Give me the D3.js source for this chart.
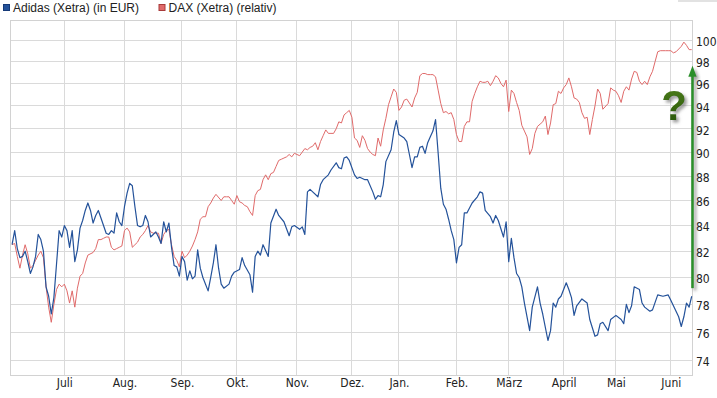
<!DOCTYPE html>
<html><head><meta charset="utf-8">
<script src="https://cdn.jsdelivr.net/npm/d3@7"></script>
<style>
body{margin:0;background:#fff}
svg{display:block}
.ax text{font-family:"Liberation Sans Narrow","Arial Narrow","DejaVu Sans Condensed","Liberation Sans",Arial,sans-serif;font-size:12px;fill:#222}
.lg text{font-family:"Liberation Sans",Arial,sans-serif;font-size:12px;fill:#222}
</style>
</head><body>
<svg id="c" width="717" height="398"></svg>
<script>
// ---- data (x = trading-day index from start, y = price) ----
const monthLabels = ["Juli","Aug.","Sep.","Okt.","Nov.","Dez.","Jan.","Feb.","März","April","Mai","Juni"];
const monthDays   = [20, 43, 65, 86, 109, 130, 148, 170, 190, 211, 231, 252];
const yTicks = [74,76,78,80,82,84,86,88,90,92,94,96,98,100];
const seriesNames = ["Adidas (Xetra) (in EUR)", "DAX (Xetra) (relativ)"];

const adidasDay = [0,1,2,3,4,5,6,7,8,9,10,11,12,13,14,15,16,17,18,19,20,21,22,23,24,25,26,27,28,29,30,31,32,33,34,36,37,38,39,40,41,42,43,44,45,46,47,48,49,50,51,52,53,54,55,56,57,58,59,60,61,62,63,64,65,66,67,68,69,70,71,72,73,75,76,77,78,79,80,81,83,84,85,87,88,89,91,92,93,94,95,96,98,99,101,102,104,106,107,108,110,111,112,113,114,115,117,118,119,121,122,124,125,126,127,128,129,131,132,133,135,136,138,139,140,141,142,143,145,146,147,148,150,151,152,153,154,155,156,157,158,159,160,161,162,163,164,165,166,167,168,169,170,171,172,173,174,176,178,179,180,181,183,184,185,186,188,189,190,191,192,193,194,195,196,198,199,201,202,203,205,206,207,208,209,210,212,213,214,215,216,218,220,221,223,224,225,226,228,229,231,233,234,235,236,237,238,240,241,242,244,245,247,249,251,252,253,255,256,257,258,259,260];
const adidasVal = [82.5,83.6,82.2,81.5,81.6,82.0,81.2,80.3,80.8,81.6,83.3,82.9,82.0,79.3,78.6,77.3,78.5,81.0,83.6,83.1,84.0,83.6,82.3,83.6,81.2,82.1,83.8,84.4,85.2,85.8,85.2,84.2,84.8,85.2,84.6,83.4,83.3,83.6,83.4,85.0,84.3,84.0,85.5,86.6,87.4,87.2,85.5,84.0,83.9,84.0,84.8,84.3,83.1,83.3,83.5,83.1,82.6,84.3,83.5,84.2,82.3,80.9,80.8,80.1,81.6,81.2,79.8,80.5,79.9,80.1,82.1,80.7,80.0,79.0,80.0,81.1,82.5,80.7,79.5,79.2,79.5,80.1,80.4,80.6,81.5,80.9,80.2,78.9,81.6,82.0,81.7,82.5,81.6,84.2,85.3,84.8,84.3,83.2,83.9,84.0,83.7,83.9,83.3,86.7,86.9,86.7,86.3,87.3,87.7,88.1,88.5,89.1,88.7,88.6,89.5,89.6,89.3,88.1,87.8,87.9,87.7,87.7,86.7,86.1,86.4,86.3,87.3,89.2,90.2,91.7,92.7,91.5,91.2,90.9,89.8,88.7,89.6,89.6,90.4,90.5,89.9,90.8,91.3,91.8,92.8,89.9,87.0,85.7,85.3,84.5,83.6,82.9,81.1,82.3,82.5,85.0,85.0,85.8,86.3,86.7,86.6,85.2,84.7,84.2,84.8,84.4,83.1,84.3,81.2,83.0,81.5,80.3,80.0,79.3,78.1,76.1,77.8,79.3,78.1,77.3,75.4,76.1,78.1,77.8,78.4,78.6,79.6,79.1,78.5,77.2,77.9,78.4,78.1,76.9,75.7,75.8,76.6,76.7,76.1,76.9,77.2,76.9,76.6,78.0,77.4,77.9,79.3,79.1,78.1,77.8,77.5,77.6,78.7,78.6,78.7,78.3,77.9,77.1,76.4,77.1,78.1,77.8,78.6];

const daxDay = [0,1,2,3,4,5,6,7,8,9,10,11,12,13,14,15,16,17,18,19,20,21,22,23,24,25,26,27,28,29,31,32,33,34,35,36,37,38,39,40,41,42,43,44,45,46,47,48,49,50,51,52,53,54,55,56,57,58,59,60,61,62,63,64,65,66,67,68,69,70,71,72,73,74,75,76,77,78,80,81,82,83,84,85,86,87,88,89,90,91,92,93,94,95,96,97,98,99,100,101,102,103,104,105,106,107,108,109,110,111,112,113,114,115,116,117,118,119,120,121,122,123,124,125,126,127,128,129,130,131,132,133,134,135,136,137,138,139,140,141,142,143,144,145,146,147,148,149,150,151,153,154,155,156,157,158,159,160,161,162,163,164,165,166,167,168,169,170,171,172,173,174,175,176,177,178,179,180,181,182,183,184,185,186,187,188,189,190,191,192,193,194,195,196,197,198,199,200,201,202,203,204,205,206,207,208,209,210,211,212,213,214,215,216,217,218,219,220,221,222,223,224,225,226,228,229,230,231,232,233,234,235,236,237,238,239,240,241,242,243,244,245,246,247,248,249,250,251,252,253,254,256,257,258,259,260];
const daxVal = [82.5,82.6,81.6,80.7,81.7,82.5,81.8,80.7,80.9,81.3,81.7,82.0,81.5,79.3,77.8,76.7,78.0,79.1,79.5,79.3,79.5,79.0,78.1,79.0,77.8,79.2,80.1,80.3,81.1,81.7,81.9,82.2,82.9,82.9,83.0,83.1,83.1,82.3,82.1,82.2,82.3,82.4,83.6,83.8,83.5,82.3,82.5,82.7,83.1,83.3,83.6,84.0,83.5,83.4,83.4,83.4,82.6,83.3,83.6,83.7,82.5,81.6,81.3,80.8,82.0,81.5,81.7,82.0,82.4,82.9,83.5,84.5,84.7,84.7,85.5,85.8,86.2,86.5,86.0,86.3,86.3,86.3,86.0,85.7,86.4,85.9,85.8,85.6,85.5,85.1,84.8,86.4,86.8,86.9,87.7,88.1,87.7,88.2,88.3,88.8,89.3,89.4,89.5,89.6,89.8,89.6,89.9,89.8,89.7,90.0,90.3,90.2,90.4,90.5,90.8,90.2,90.9,91.4,91.9,91.6,91.6,91.6,92.0,92.6,92.5,93.2,93.4,93.6,93.0,91.2,91.0,90.4,91.4,91.0,90.3,90.0,89.8,89.7,91.2,90.5,91.9,92.9,94.1,94.8,95.5,95.2,93.6,93.9,94.5,94.6,93.9,94.7,95.2,96.7,96.9,96.9,96.8,96.8,96.8,96.6,95.4,94.2,93.4,93.5,93.3,93.4,92.8,91.5,90.9,90.9,92.2,92.6,92.6,94.4,95.1,95.7,96.2,96.1,96.1,96.2,95.8,96.2,96.7,96.5,96.0,95.7,96.3,93.5,95.4,95.1,94.3,93.6,92.3,91.8,91.3,89.8,90.3,91.6,92.2,92.4,92.6,93.1,91.5,92.5,94.1,94.2,95.3,95.1,95.6,95.9,96.5,95.7,94.7,94.6,94.3,93.4,92.9,93.0,91.5,92.8,94.0,95.5,95.1,93.7,94.2,95.6,95.4,95.3,94.9,94.3,95.3,95.7,95.4,96.4,97.1,97.0,96.2,95.9,96.2,95.9,96.6,97.1,98.0,98.9,99.0,99.0,99.0,99.0,99.0,98.8,98.9,99.4,99.8,99.5,99.1,99.1];

// annotation: arrow drawn at the right edge, from ~79 up to ~97.6
const arrowDay = 260.3, arrowFrom = 79.2, arrowTo = 97.6;
const questionDay = 253.3, questionVal = 92.8;

// ---- layout ----
const L = 10.5, R = 692.5, T = 20.5, B = 375.5;
const svg = d3.select("#c");
const x = d3.scaleLinear().domain([-0.6, 260.3]).range([L, R]);
const y = d3.scaleLog().domain([72.96, 101.85]).range([B, T]);
const crisp = v => Math.round(v - 0.5) + 0.5;

const defs = svg.append("defs");
const f = defs.append("filter").attr("id","sh").attr("x","-50%").attr("y","-50%").attr("width","200%").attr("height","200%");
f.append("feDropShadow").attr("dx",2.5).attr("dy",2.5).attr("stdDeviation",1.4).attr("flood-color","#777").attr("flood-opacity",0.7);
const g1 = defs.append("linearGradient").attr("id","qg").attr("x1",0).attr("y1",0).attr("x2",0).attr("y2",1);
g1.append("stop").attr("offset","0%").attr("stop-color","#4f8018");
g1.append("stop").attr("offset","100%").attr("stop-color","#24520a");

svg.append("rect").attr("x",678).attr("y",0).attr("width",39).attr("height",2).attr("fill","#e2e2e2");

// grid
const grid = svg.append("g");
grid.selectAll("line.v").data(monthDays).join("line")
  .attr("x1", d => crisp(x(d))).attr("x2", d => crisp(x(d)))
  .attr("y1", T).attr("y2", B).attr("stroke","#dadada").attr("stroke-width",1);
grid.selectAll("line.h").data(yTicks).join("line")
  .attr("y1", d => crisp(y(d))).attr("y2", d => crisp(y(d)))
  .attr("x1", L).attr("x2", R).attr("stroke","#dadada").attr("stroke-width",1);
svg.append("rect").attr("x",L).attr("y",T).attr("width",R-L).attr("height",B-T)
  .attr("fill","none").attr("stroke","#d2d2d2");

// axes (labels only)
const yAxis = d3.axisRight(y).tickValues(yTicks).tickSize(0).tickPadding(3.5).tickFormat(d3.format("d"));
const ya = svg.append("g").attr("class","ax").attr("transform",`translate(${R},0)`).call(yAxis);
ya.select(".domain").remove();
ya.selectAll("text").attr("dy","0.45em");

const xAxis = d3.axisBottom(x).tickValues(monthDays).tickSize(0).tickPadding(3)
  .tickFormat((d,i) => monthLabels[i]);
const xa = svg.append("g").attr("class","ax").attr("transform",`translate(0,${B})`).call(xAxis);
xa.select(".domain").remove();

// lines
const line = d3.line().x(d => x(d[0])).y(d => y(d[1]));
const dax = d3.zip(daxDay, daxVal);
const adi = d3.zip(adidasDay, adidasVal);
svg.append("path").datum(dax).attr("d", line).attr("fill","none").attr("stroke","#e06a6a").attr("stroke-width",1).attr("stroke-linejoin","round");
svg.append("path").datum(adi).attr("d", line).attr("fill","none").attr("stroke","#24529a").attr("stroke-width",1.2).attr("stroke-linejoin","round");

// annotation arrow + question mark
const ax0 = x(arrowDay), yb = y(arrowFrom), yt = y(arrowTo);
const ann = svg.append("g").attr("filter","url(#sh)");
ann.append("line").attr("x1",ax0).attr("x2",ax0).attr("y1",yb).attr("y2",yt+9)
  .attr("stroke","#2b8f2b").attr("stroke-width",2.6);
ann.append("path").attr("d",`M${ax0},${yt} L${ax0-4.2},${yt+11} L${ax0+4.2},${yt+11} Z`).attr("fill","#2b8f2b");
svg.append("text").attr("x", x(questionDay)).attr("y", y(questionVal))
  .attr("text-anchor","middle").attr("filter","url(#sh)")
  .style("font-family","'Liberation Sans',Arial,sans-serif").style("font-weight","bold").style("font-size","42px")
  .attr("fill","url(#qg)").text("?");

// legend
const colors = ["#24529a","#e06a6a"], borders = ["#163a78","#a83a3a"], lx = [3, 158.5];
const lg = svg.append("g").attr("class","lg");
seriesNames.forEach((n,i) => {
  lg.append("rect").attr("x",lx[i]+0.5).attr("y",4.5).attr("width",6).attr("height",6)
    .attr("fill",colors[i]).attr("stroke",borders[i]).attr("stroke-width",1);
  lg.append("text").attr("x",lx[i]+10).attr("y",12).text(n);
});
</script>
</body></html>
